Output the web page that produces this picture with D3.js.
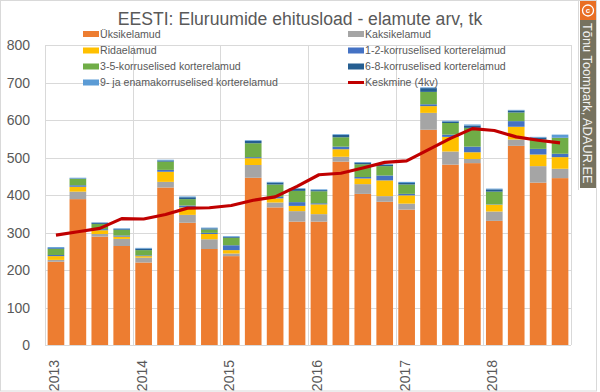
<!DOCTYPE html>
<html><head><meta charset="utf-8">
<script src="https://cdn.jsdelivr.net/npm/d3@7"></script>
<style>body{margin:0;background:#fff}svg{display:block;font-family:"Liberation Sans",Arial,sans-serif}</style>
</head><body><svg id="c" width="600" height="392"></svg>
<script>
const categories = ["2013K1","2013K2","2013K3","2013K4","2014K1","2014K2","2014K3","2014K4","2015K1","2015K2","2015K3","2015K4","2016K1","2016K2","2016K3","2016K4","2017K1","2017K2","2017K3","2017K4","2018K1","2018K2","2018K3","2018K4"];
const yearLabels = ["2013","2014","2015","2016","2017","2018"];
const yearLabelCats = ["2013K1","2014K1","2015K1","2016K1","2017K1","2018K1"];
const yTicks = [0,100,200,300,400,500,600,700,800];
const uksik = [222,389,289,264,220,420,326,256,237,446,367,329,329,489,403,382,361,574,481,485,331,531,433,445];
const kaksik = [5,20,7,19,13,15,21,26,7,34,13,28,20,13,26,15,16,45,35,11,25,17,44,25];
const rida = [10,13,10,6,4,27,20,14,9,18,11,14,26,20,15,42,22,18,39,18,18,34,31,31];
const k12 = [3,4,3,3,2,5,5,3,13,3,4,10,3,7,4,13,4,5,6,15,1,15,15,9];
const k35 = [16,17,14,15,14,22,17,9,20,37,33,30,32,25,34,25,25,33,31,50,34,23,25,42];
const k68 = [2,1,3,2,4,3,5,3,2,6,5,5,3,6,4,3,4,10,4,6,6,5,5,1];
const k9 = [3,2,1,2,2,2,2,2,2,2,2,2,2,2,2,2,3,2,2,3,2,2,2,8];
const keskmine = [293,302,311,337,336,348,365,366,372,386,395,423,454,458,472,487,491,521,551,577,572,555,546,539];
const seriesNames = ["Üksikelamud","Kaksikelamud","Ridaelamud","1-2-korruselised korterelamud","3-5-korruselised korterelamud","6-8-korruselised korterelamud","9- ja enamakorruselised korterelamud"];
const seriesColors = ["#ED7D31","#A5A5A5","#FFC000","#4472C4","#70AD47","#255E91","#5B9BD5"];
const lineName = "Keskmine (4kv)";
const title = "EESTI: Eluruumide ehitusload - elamute arv, tk";
const watermark = "Tõnu Toompark, ADAUR.EE";

const svg = d3.select("#c");
const keys = ["uksik","kaksik","rida","k12","k35","k68","k9"];
const arrs = [uksik,kaksik,rida,k12,k35,k68,k9];
const table = categories.map((c,i)=>{const o={cat:c}; keys.forEach((k,j)=>o[k]=arrs[j][i]); return o;});
const stack = d3.stack().keys(keys)(table);

const L=45,R=571,T=45,B=345;
const x = d3.scaleBand().domain(categories).range([L,R]).paddingInner(0.24).paddingOuter(0.12);
const y = d3.scaleLinear().domain([0,800]).range([B,T]);

// border
svg.append("rect").attr("x",0.5).attr("y",0.5).attr("width",596).attr("height",390.5).attr("fill","none").attr("stroke","#d9d9d9");

// gridlines
svg.append("g").selectAll("line").data(yTicks).join("line")
  .attr("x1",L).attr("x2",R).attr("y1",d=>Math.round(y(d))+0.5).attr("y2",d=>Math.round(y(d))+0.5)
  .attr("stroke","#d9d9d9").attr("stroke-width",1);
const step = x.step();
const vgrid = d3.range(0,categories.length+1,4);
svg.append("g").selectAll("line").data(vgrid).join("line")
  .attr("x1",d=>Math.round(L+d*(R-L)/categories.length)+0.5).attr("x2",d=>Math.round(L+d*(R-L)/categories.length)+0.5)
  .attr("y1",T).attr("y2",B).attr("stroke","#d9d9d9");

// y labels
svg.append("g").selectAll("text").data(yTicks).join("text")
  .attr("x",30).attr("y",d=>y(d)).attr("dy","0.36em").attr("text-anchor","end")
  .attr("font-size",14).attr("fill","#595959").text(d=>d);

// bars
svg.append("g").selectAll("g").data(stack).join("g").attr("fill",(d,i)=>seriesColors[i])
  .selectAll("rect").data(d=>d).join("rect")
  .attr("x",d=>x(d.data.cat)).attr("width",x.bandwidth())
  .attr("y",d=>y(d[1])).attr("height",d=>Math.max(0,y(d[0])-y(d[1])));

// line
svg.append("path").datum(keskmine)
  .attr("d",d3.line().x((d,i)=>x(categories[i])+x.bandwidth()/2).y(d=>y(d)))
  .attr("fill","none").attr("stroke","#C00000").attr("stroke-width",3.2).attr("stroke-linejoin","round");

// x labels
svg.append("g").selectAll("text").data(yearLabels).join("text")
  .attr("transform",(d,i)=>`translate(${x(yearLabelCats[i])+x.bandwidth()/2-2},360) rotate(-90)`)
  .attr("dy","0.36em").attr("text-anchor","end").attr("font-size",14).attr("fill","#595959").text(d=>d);

// title
svg.append("text").attr("x",300).attr("y",25).attr("text-anchor","middle").attr("font-size",17.6).attr("fill","#595959").text(title);

// legend
const legPos = [[83,34],[348,34],[83,50.5],[348,50.5],[83,66.5],[348,66.5],[83,82.5],[348,82.5]];
seriesNames.forEach((n,i)=>{
  const [lx,ly]=legPos[i];
  svg.append("rect").attr("x",lx).attr("y",ly-3).attr("width",16).attr("height",6).attr("fill",seriesColors[i]);
  svg.append("text").attr("x",lx+17).attr("y",ly).attr("dy","0.35em").attr("font-size",10.6).attr("fill","#595959").text(n);
});
{
  const [lx,ly]=legPos[7];
  svg.append("line").attr("x1",lx).attr("x2",lx+16).attr("y1",ly).attr("y2",ly).attr("stroke","#C00000").attr("stroke-width",3);
  svg.append("text").attr("x",lx+17).attr("y",ly).attr("dy","0.35em").attr("font-size",10.6).attr("fill","#595959").text(lineName);
}

// watermark
svg.append("line").attr("x1",578.5).attr("x2",578.5).attr("y1",0).attr("y2",190).attr("stroke","#d9d9d9");
svg.append("rect").attr("x",580).attr("y",1).attr("width",16).attr("height",19).attr("fill","#E96F24");
svg.append("circle").attr("cx",588).attr("cy",10.5).attr("r",5.5).attr("fill","none").attr("stroke","#fff").attr("stroke-width",1.3);
svg.append("text").attr("x",588).attr("y",10.5).attr("dy","0.35em").attr("text-anchor","middle").attr("font-size",8).attr("font-weight","bold").attr("fill","#fff").text("c");
svg.append("rect").attr("x",580).attr("y",20).attr("width",16).attr("height",168).attr("fill","#76725F");
svg.append("text").attr("transform","translate(588,23) rotate(90)").attr("dy","0.36em").attr("font-size",12.8).attr("fill","#f2f2f2").text(watermark);
</script></body></html>
